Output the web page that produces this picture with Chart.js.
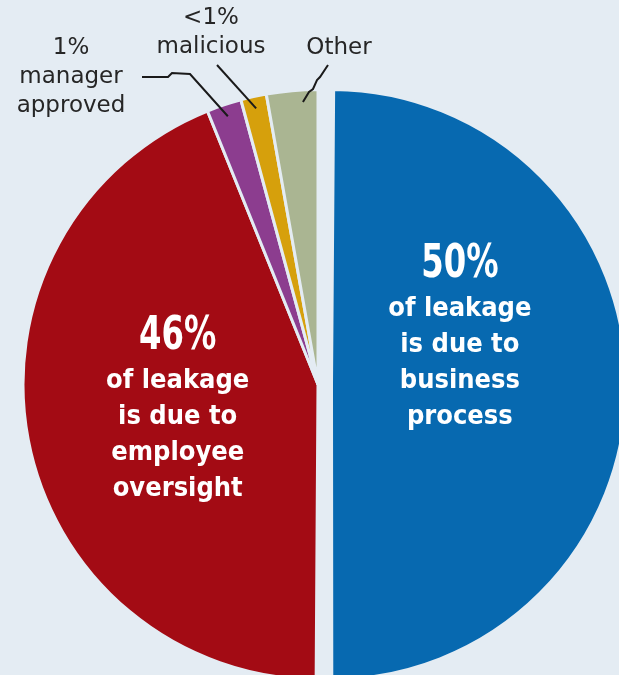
<!DOCTYPE html>
<html>
<head>
<meta charset="utf-8">
<script src="https://cdn.jsdelivr.net/npm/chart.js@4.4.1/dist/chart.umd.min.js"></script>
<style>
  html, body { margin: 0; padding: 0; background: #e4ecf3; }
  canvas { display: block; }
</style>
</head>
<body>
<canvas id="myChart" width="619" height="675"></canvas>
<script>
const ctx = document.getElementById("myChart");

// data (slice sizes as drawn)
const categories = ["business process", "employee oversight", "manager approved", "malicious", "Other"];
const shares = [50, 43.7, 1.9, 1.4, 2.8];
const sliceColors = ["#0769b0", "#a30b14", "#8c3d8f", "#d6a00c", "#aab592"];
const insideTitles = ["50%", "46%"];
const insideLines = [
  ["of leakage", "is due to", "business", "process"],
  ["of leakage", "is due to", "employee", "oversight"],
];
const outsideLabels = [
  ["1%", "manager", "approved"],
  ["<1%", "malicious"],
  ["Other"],
];

const bg = "#e4ecf3";
const COND = '"DejaVu Sans Condensed", "Liberation Sans Narrow", "DejaVu Sans", sans-serif';
const PLAIN = '"DejaVu Sans", sans-serif';

// point relative to an arc: mid angle + shift (degrees), at dist px from its centre
function arcPoint(arc, shiftDeg, dist) {
  const { x, y, startAngle, endAngle } = arc.getProps(["x", "y", "startAngle", "endAngle"], true);
  const mid = (startAngle + endAngle) / 2;
  const off = (arc.options.offset || 0) / 4; // chart.js draws offset / 4
  const a = mid + (shiftDeg * Math.PI) / 180;
  return {
    x: x + off * Math.cos(mid) + dist * Math.cos(a),
    y: y + off * Math.sin(mid) + dist * Math.sin(a),
  };
}

// chart.js grows a half-circle slice by its offset; keep the pulled-out slice the same size
const keepRadius = {
  id: "keepRadius",
  beforeDatasetsDraw: (chart) => {
    chart.getDatasetMeta(0).data.forEach((arc) => {
      const off = (arc.options.offset || 0) / 4;
      if (!off) return;
      const circ = arc.endAngle - arc.startAngle;
      const fix = 1 - Math.sin(Math.min(Math.PI, circ));
      arc.outerRadius = chart.getDatasetMeta(0).controller.outerRadius - off * fix;
    });
  },
};

const labelPlugin = {
  id: "leakageLabels",
  afterDatasetsDraw: (chart) => {
    const { ctx } = chart;
    const arcs = chart.getDatasetMeta(0).data;
    ctx.save();
    ctx.textAlign = "center";
    ctx.textBaseline = "middle";

    // big labels inside blue and red
    const inside = [
      { shift: -19.5, dist: 136 },
      { shift: -0.3, dist: 143 },
    ];
    inside.forEach((p, i) => {
      const c = arcPoint(arcs[i], p.shift, p.dist);
      ctx.fillStyle = "#ffffff";
      ctx.save();
      ctx.translate(c.x, c.y - 75);
      ctx.scale(0.78, 1);
      ctx.font = "bold 46px " + COND;
      ctx.fillText(insideTitles[i], 0, 0);
      ctx.restore();
      ctx.font = "bold 27px " + COND;
      insideLines[i].forEach((t, j) => {
        ctx.fillText(t, c.x, c.y - 31 + j * 36);
      });
    });

    // small outside labels with leader lines
    const outside = [
      { x: 71, y: 48, shift: 0, pts: [[142, 77], [168, 77], [172, 73], [190, 74]] },
      { x: 211, y: 18, shift: 0, pts: [[217, 65]] },
      { x: 339, y: 48, shift: 2, pts: [[328, 65], [320, 77], [317, 80], [313, 89], [309, 92]] },
    ];
    ctx.fillStyle = "#262626";
    ctx.font = "23px " + PLAIN;
    outside.forEach((o, i) => {
      outsideLabels[i].forEach((t, j) => {
        ctx.fillText(t, o.x, o.y + j * 29);
      });
      const end = arcPoint(arcs[i + 2], o.shift, 283);
      ctx.strokeStyle = "#1a1a1a";
      ctx.lineWidth = 2;
      ctx.beginPath();
      ctx.moveTo(o.pts[0][0], o.pts[0][1]);
      o.pts.slice(1).forEach((q) => ctx.lineTo(q[0], q[1]));
      ctx.lineTo(end.x, end.y);
      ctx.stroke();
    });
    ctx.restore();
  },
};

new Chart(ctx, {
  type: "pie",
  data: {
    labels: categories,
    datasets: [
      {
        data: shares,
        backgroundColor: sliceColors,
        borderColor: bg,
        borderWidth: 3,
        offset: [54, 0, 0, 0, 0],
        hoverOffset: 0,
        radius: 295,
        clip: false,
      },
    ],
  },
  options: {
    responsive: false,
    animation: false,
    layout: {
      padding: { left: 17, right: 0, top: 94, bottom: 0 },
    },
    plugins: {
      legend: { display: false },
      tooltip: { enabled: false },
    },
  },
  plugins: [keepRadius, labelPlugin],
});
</script>
</body>
</html>
